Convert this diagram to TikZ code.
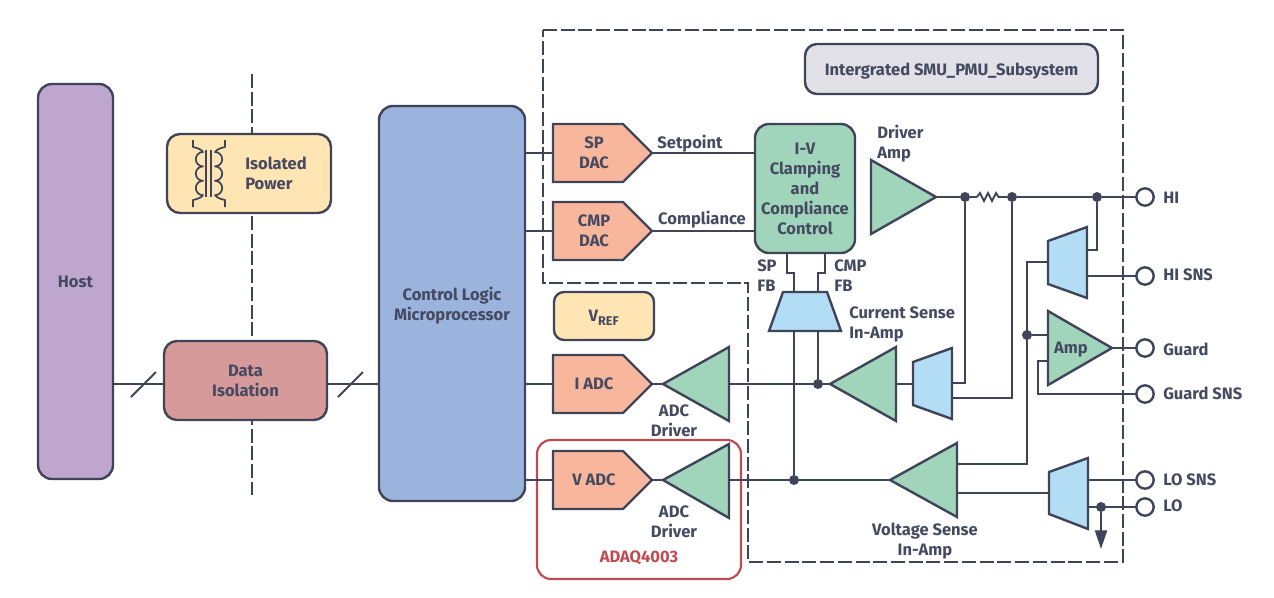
\documentclass[tikz,border=0pt]{standalone}
\usepackage{fontspec}
\setmainfont{Fira Sans}
\usetikzlibrary{arrows.meta,calc}
\definecolor{ink}{HTML}{3F4459}
\definecolor{txt}{HTML}{454A60}
\definecolor{hostc}{HTML}{BFA6CF}
\definecolor{creamc}{HTML}{FFE5B4}
\definecolor{isoc}{HTML}{D69A9A}
\definecolor{ctlc}{HTML}{9BB4DE}
\definecolor{greyc}{HTML}{E1E1E7}
\definecolor{orangec}{HTML}{F8B79C}
\definecolor{greenc}{HTML}{A0D5BC}
\definecolor{bluec}{HTML}{B2DDF5}
\definecolor{redc}{HTML}{C04A52}
\tikzset{
  wire/.style={draw=ink,line width=1.7pt,line join=miter},
  outl/.style={draw=ink,line width=1.8pt,line join=miter},
  dashline/.style={draw=ink,line width=1.7pt,dash pattern=on 10.5pt off 2.8pt},
  bx/.style n args={2}{minimum width=#1*0.75pt,minimum height=#2*0.75pt,inner sep=0pt,outer sep=0pt},
  rbox/.style={outl,rounded corners=#1*0.75pt,align=center},
  lbl/.style={text=txt,font=\fontsize{12.4}{15}\selectfont\bfseries,align=center,inner sep=0pt,text depth=0pt},
  lbll/.style={lbl,align=left},
  dot/.style={circle,fill=ink,draw=none,minimum size=7.5pt,inner sep=0pt},
  pin/.style={circle,draw=ink,line width=1.8pt,fill=white,minimum size=13pt,inner sep=0pt,outer sep=0pt}
}
\begin{document}
\begin{tikzpicture}[x=0.75pt,y=-0.75pt]
\useasboundingbox (0,0) rectangle (1274,597);
% isolation barrier
\coordinate (barT) at (252,74); \coordinate (barB) at (252,495);
\draw[dashline] (barT) -- (barB);
% dashed subsystem
\draw[dashline] (543,30) -- (1123,30) -- (1123,562) -- (748,562) -- (748,283) -- (543,283) -- cycle;
% boxes
\node[bx={75}{395},rbox=14,fill=hostc,lbl] (host) at (75.5,281.5) {Host};
\node[bx={164}{79},rbox=13,fill=creamc] (ipow) at (249,173.5) {};
\node[lbll,anchor=west] (ipowt) at (245,173.5) {Isolated\\Power};
\node[bx={163}{79},rbox=13,fill=isoc,lbl] (diso) at (245.5,380.5) {Data\\Isolation};
\node[bx={146}{395},rbox=14,fill=ctlc,lbl] (ctl) at (452,303.5) {Control Logic\\Microprocessor};
\node[bx={293}{50},rbox=12,fill=greyc,lbl] (title) at (951.5,69) {Intergrated SMU\_PMU\_Subsystem};
\node[bx={100}{48},rbox=10,fill=creamc,lbl] (vref) at (604,316) {V\textsubscript{\fontsize{9.5}{9.5}\selectfont REF}};
\node[bx={100}{129},rbox=14,fill=greenc,lbl] (iv) at (805,188.5) {I-V\\Clamping\\and\\Compliance\\Control};
\node[bx={204}{139},draw=redc,line width=1.6pt,rounded corners=10.5pt] (adabox) at (639,509.5) {};
\node[lbl,text=redc] (adat) at (639,557) {ADAQ4003};
% transformer
\draw[ink,line width=1.3pt,line join=round]
  (193,140) -- (193,147) .. controls (197,148) and (201,149) .. (203,152)
  arc[start angle=-90,end angle=-270,radius=7.2] arc[start angle=-90,end angle=-270,radius=7.2] arc[start angle=-90,end angle=-270,radius=7.2]
  .. controls (201,198) and (197,199) .. (193,200) -- (193,207);
\draw[ink,line width=1.3pt,line join=round]
  (225,140) -- (225,147) .. controls (221,148) and (217,149) .. (215,152)
  arc[start angle=-90,end angle=90,radius=7.2] arc[start angle=-90,end angle=90,radius=7.2] arc[start angle=-90,end angle=90,radius=7.2]
  .. controls (217,198) and (221,199) .. (225,200) -- (225,207);
\draw[ink,line width=1.2pt] (206,150) -- (206,197) (211,150) -- (211,197);
% host bus
\coordinate (bus) at (245,384);
\draw[wire] (host.east |- bus) -- (diso.west |- bus);
\draw[wire] (diso.east |- bus) -- (ctl.west |- bus);
\coordinate (s1a) at (131,397); \coordinate (s1b) at (156,372);
\coordinate (s2a) at (338,397); \coordinate (s2b) at (363,372);
\draw[wire,line width=1.5pt] (s1a) -- (s1b);
\draw[wire,line width=1.5pt] (s2a) -- (s2b);
% DACs / ADCs
\foreach \n/\y in {sp/153,cmp/231,iadc/384,vadc/480}{
  \coordinate (\n L) at (553,\y); \coordinate (\n R) at (652,\y);
  \draw[outl,fill=orangec] (553,\y-29) -- (623,\y-29) -- (652,\y) -- (623,\y+29) -- (553,\y+29) -- cycle;
  \draw[wire] (ctl.east |- \n L) -- (\n L);
}
\node[lbl] (spt) at (594,153) {SP\\DAC};
\node[lbl] (cmpt) at (594,231) {CMP\\DAC};
\node[lbl] (iadct) at (594,384) {I ADC};
\node[lbl] (vadct) at (594,480) {V ADC};
\draw[wire] (spR) -- (iv.west |- spR);
\draw[wire] (cmpR) -- (iv.west |- cmpR);
\node[lbl] (setp) at (690,142) {Setpoint};
\node[lbl] (comp) at (702,218) {Compliance};
% FB
\coordinate (fbA) at (787,253); \coordinate (fbB) at (825,253);
\coordinate (csTa) at (794,292); \coordinate (csTb) at (818,292);
\coordinate (csBa) at (794,331); \coordinate (csBb) at (818,331);
\draw[wire] (fbA) -- (787,273) -- (794,273) -- (csTa);
\draw[wire] (fbB) -- (825,273) -- (818,273) -- (csTb);
\draw[outl,fill=bluec] (783,292) -- (827,292) -- (841,331) -- (769,331) -- cycle;
\node[lbl,lbll,anchor=west] (spfb) at (757,276) {SP\\FB};
\node[lbl,lbll,anchor=west] (cmpfb) at (834,276) {CMP\\FB};
\node[lbl,lbll,anchor=west] (cst) at (849,323) {Current Sense\\In-Amp};
% signal chain
\node[dot] (d1) at (818,384) {};
\node[dot] (d2) at (794,480) {};
\coordinate (a1) at (729,384); \coordinate (a2) at (729,480);
\coordinate (csTip) at (830,384); \coordinate (vsTip) at (890,480);
\draw[wire] (a1) -- (csTip);
\draw[wire] (a2) -- (vsTip);
\draw[wire] (csBa) -- (d2);
\draw[wire] (csBb) -- (d1);
\draw[wire] (iadcR) -- (663,384);
\draw[wire] (vadcR) -- (663,480);
% driver
\coordinate (drv) at (936,197);
\node[dot] (d3) at (965,197) {};
\node[dot] (d4) at (1012,197) {};
\node[dot] (d5) at (1097,197) {};
\node[pin] (hi) at (1145,197) {};
\node[pin] (hisns) at (1145,276) {};
\node[pin] (guard) at (1145,348) {};
\node[pin] (gsns) at (1145,394) {};
\node[pin] (losns) at (1145,480) {};
\node[pin] (lo) at (1145,507) {};
\coordinate (resL) at (977,197); \coordinate (resR) at (1000,197);
\draw[wire] (drv) -- (d3) -- (resL);
\draw[wire,line width=1.4pt] (resL) -- (980,193) -- (984,201) -- (988,193) -- (992,201) -- (996,193) -- (998.5,197) -- (resR);
\draw[wire] (resR) -- (d4) -- (d5) -- (hi);
% muxes wires
\draw[wire] (d5) -- (1097,250) -- (1087,250);
\draw[wire] (1087,276) -- (hisns);
\coordinate (ampT) at (1112,348);
\draw[wire] (ampT) -- (guard);
\node[dot] (d6) at (1027,335) {};
\draw[wire] (1048,262) -- (1027,262) -- (1027,464) -- (957,464);
\draw[wire] (d6) -- (1048,335);
\draw[wire] (gsns) -- (1038,394) -- (1038,361) -- (1048,361);
\draw[wire] (896,384) -- (913,384);
\draw[wire] (952,383) -- (965,383) -- (d3);
\draw[wire] (952,398) -- (1012,398) -- (d4);
\draw[wire] (957,493) -- (1049,493);
\node[dot] (d7) at (1101,507) {};
\coordinate (gnd) at (1101,549);
\draw[wire] (1088,480) -- (losns);
\draw[wire] (1088,507) -- (lo);
\draw[wire,-{Triangle[length=14pt,width=9pt]}] (d7) -- (gnd);
% triangles
\draw[outl,fill=greenc] (663,384) -- (729,347) -- (729,421) -- cycle;
\draw[outl,fill=greenc] (663,480) -- (729,444) -- (729,518) -- cycle;
\draw[outl,fill=greenc] (830,384) -- (896,347) -- (896,421) -- cycle;
\draw[outl,fill=greenc] (890,480) -- (957,443) -- (957,517) -- cycle;
\draw[outl,fill=greenc] (871,160) -- (871,234) -- (936,197) -- cycle;
\draw[outl,fill=greenc] (1048,311) -- (1048,385) -- (1112,348) -- cycle;
% muxes
\draw[outl,fill=bluec] (1048,241) -- (1087,227) -- (1087,298) -- (1048,284) -- cycle;
\draw[outl,fill=bluec] (913,362) -- (952,348) -- (952,419) -- (913,405) -- cycle;
\draw[outl,fill=bluec] (1049,472) -- (1088,458) -- (1088,529) -- (1049,514) -- cycle;
% labels
\node[lbl] (ampt) at (1071,348) {Amp};
\node[lbll,anchor=west] (drvt) at (877,142) {Driver\\Amp};
\node[lbl] (adc1) at (674,421) {ADC\\Driver};
\node[lbl] (adc2) at (674,522) {ADC\\Driver};
\node[lbl] (vst) at (925,539) {Voltage Sense\\In-Amp};
\node[lbl,anchor=west] (hit) at (1163,198) {HI};
\node[lbl,anchor=west] (hisnst) at (1163,275) {HI SNS};
\node[lbl,anchor=west] (guardt) at (1163,349) {Guard};
\node[lbl,anchor=west] (gsnst) at (1163,393) {Guard SNS};
\node[lbl,anchor=west] (losnst) at (1163,480) {LO SNS};
\node[lbl,anchor=west] (lot) at (1163,506) {LO};
\end{tikzpicture}
\end{document}
